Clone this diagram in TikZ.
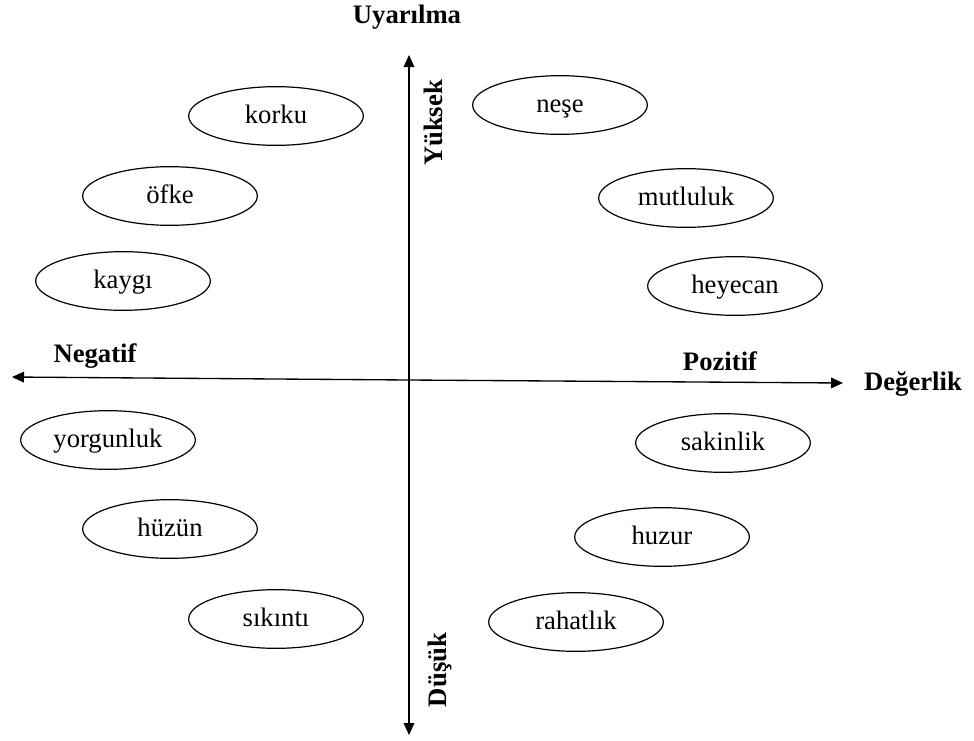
\documentclass[tikz,border=0pt]{standalone}
\usepackage{fontspec}
\setmainfont{Liberation Serif}
\usetikzlibrary{shapes.geometric,arrows.meta}
\begin{document}
\begin{tikzpicture}[x=0.75pt,y=-0.75pt,
  emo/.style={draw,line width=0.9pt,ellipse,minimum width=131pt,minimum height=44pt,inner sep=0pt,text height=14pt,text depth=3pt,font=\fontsize{20}{24}\selectfont},
  axis/.style={draw,line width=1pt,-{Triangle[length=9pt,width=8pt]}},
  lbl/.style={font=\fontsize{20}{24}\selectfont\bfseries,inner sep=0pt}]
\useasboundingbox (0,0) rectangle (974,740);
\coordinate (c) at (409,380);
\coordinate (top) at (409,55);
\coordinate (bot) at (409,735);
\coordinate (left) at (12,377);
\coordinate (right) at (843,383);
\draw[axis] (c) -- (top);
\draw[axis] (c) -- (bot);
\draw[axis] (c) -- (left);
\draw[axis] (c) -- (right);
\node[emo] (korku) at (276,116) {korku};
\node[emo] (ofke) at (170,196) {öfke};
\node[emo] (kaygi) at (123,281) {kaygı};
\node[emo] (nese) at (560,105) {neşe};
\node[emo] (mutluluk) at (686,198) {mutluluk};
\node[emo] (heyecan) at (735,286) {heyecan};
\node[emo] (yorgunluk) at (108,440) {yorgunluk};
\node[emo] (huzun) at (170,529) {hüzün};
\node[emo] (sikinti) at (276,619) {sıkıntı};
\node[emo] (sakinlik) at (723,443) {sakinlik};
\node[emo] (huzur) at (662,537) {huzur};
\node[emo] (rahatlik) at (576,622) {rahatlık};
\node[lbl] (uyarilma) at (407,17) {Uyarılma};
\node[lbl,rotate=90] (yuksek) at (433,123) {Yüksek};
\node[lbl,rotate=90] (dusuk) at (440,670) {Düşük};
\node[lbl] (negatif) at (95,356) {Negatif};
\node[lbl] (pozitif) at (720,361) {Pozitif};
\node[lbl] (degerlik) at (913,384) {Değerlik};
\end{tikzpicture}
\end{document}
